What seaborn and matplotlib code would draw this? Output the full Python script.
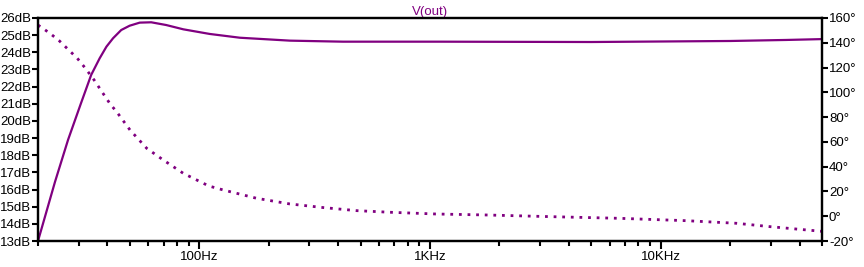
import matplotlib
matplotlib.use("Agg")
import matplotlib.pyplot as plt
import matplotlib.ticker as mticker
import seaborn as sns
import pandas as pd

# ---- data ----
freq_mag = [20, 23.7, 27.0, 30.6, 34.0, 37.0, 39.6, 42.3, 45.9, 49.9, 55.2, 61.9,
            71.9, 85.3, 111, 150, 247, 419, 1100, 5000, 20000, 35000, 50000]
mag_db = [13.0, 16.45, 18.9, 20.97, 22.68, 23.65, 24.33, 24.82, 25.30, 25.55, 25.73, 25.75,
          25.59, 25.34, 25.07, 24.85, 24.68, 24.62, 24.62, 24.60, 24.66, 24.72, 24.77]

freq_ph = [20, 21.0, 23.0, 24.8, 27.0, 29.6, 32.1, 35.0, 38.0, 41.2, 43.8, 50.1, 59.2,
           69.8, 85.3, 110, 127, 177, 247, 344, 481, 670, 1060, 1760, 3420, 6650,
           12900, 21300, 29700, 40100, 50000]
phase_deg = [154.3, 151.7, 146.3, 141.4, 134.7, 127.5, 119.4, 110.0, 100.0, 90.3, 84.4, 69.6,
             54.8, 45.4, 34.6, 24.4, 21.2, 14.5, 9.9, 7.0, 4.5, 3.2, 1.8, 1.0, -0.4, -1.7,
             -3.6, -5.7, -8.4, -10.6, -12.2]

db_ticks = list(range(13, 27))
deg_ticks = list(range(-20, 161, 20))
x_major = [100, 1000, 10000]
x_major_labels = ["100Hz", "1KHz", "10KHz"]
title = "V(out)"

# ---- plotting ----
sns.set_theme(style="white")
plt.rcParams["font.family"] = ["Liberation Sans", "DejaVu Sans"]

color = "#800080"
fig = plt.figure(figsize=(8.64, 2.67), dpi=100)
ax = fig.add_axes([38 / 864, 1 - 241 / 267, (822 - 38) / 864, (241 - 18) / 267])
ax2 = ax.twinx()

df_mag = pd.DataFrame({"f": freq_mag, "db": mag_db})
df_ph = pd.DataFrame({"f": freq_ph, "ph": phase_deg})

sns.lineplot(data=df_mag, x="f", y="db", ax=ax, color=color, lw=1.6, estimator=None, sort=False)
sns.lineplot(data=df_ph, x="f", y="ph", ax=ax2, color=color, lw=2.0, estimator=None, sort=False,
             linestyle=(0, (1, 2.1)))

ax.set_xscale("log")
ax.set_xlim(20, 50000)
ax.set_ylim(13, 26)
ax2.set_ylim(-20, 160)

ax.xaxis.set_major_locator(mticker.FixedLocator(x_major))
ax.xaxis.set_major_formatter(mticker.FixedFormatter(x_major_labels))
ax.xaxis.set_minor_locator(mticker.LogLocator(base=10, subs=range(2, 10), numticks=20))
ax.xaxis.set_minor_formatter(mticker.NullFormatter())

ax.yaxis.set_major_locator(mticker.FixedLocator(db_ticks))
ax.yaxis.set_major_formatter(mticker.FixedFormatter([f"{v}dB" for v in db_ticks]))
ax2.yaxis.set_major_locator(mticker.FixedLocator(deg_ticks))
ax2.yaxis.set_major_formatter(mticker.FixedFormatter([f"{v}°" for v in deg_ticks]))

ax.set_xlabel("")
ax.set_ylabel("")
ax2.set_ylabel("")

for a in (ax, ax2):
    for s in a.spines.values():
        s.set_color("black")
        s.set_linewidth(1.6)
        s.set_visible(True)

ax.tick_params(axis="x", which="major", direction="out", length=5.5, width=1.5,
               color="black", labelsize=9.5, labelcolor="black", pad=1.5, bottom=True)
ax.tick_params(axis="x", which="minor", direction="out", length=3.8, width=1.5,
               color="black", bottom=True)
ax.tick_params(axis="y", which="major", direction="out", length=4.5, width=1.5,
               color="black", labelsize=9.5, labelcolor="black", pad=0.5, left=True)
ax2.tick_params(axis="y", which="major", direction="out", length=4.5, width=1.5,
                color="black", labelsize=9.5, labelcolor="black", pad=0.5, right=True)

ax.set_title(title, color=color, fontsize=9.5, pad=2)

fig.savefig("out.png", dpi=100)
